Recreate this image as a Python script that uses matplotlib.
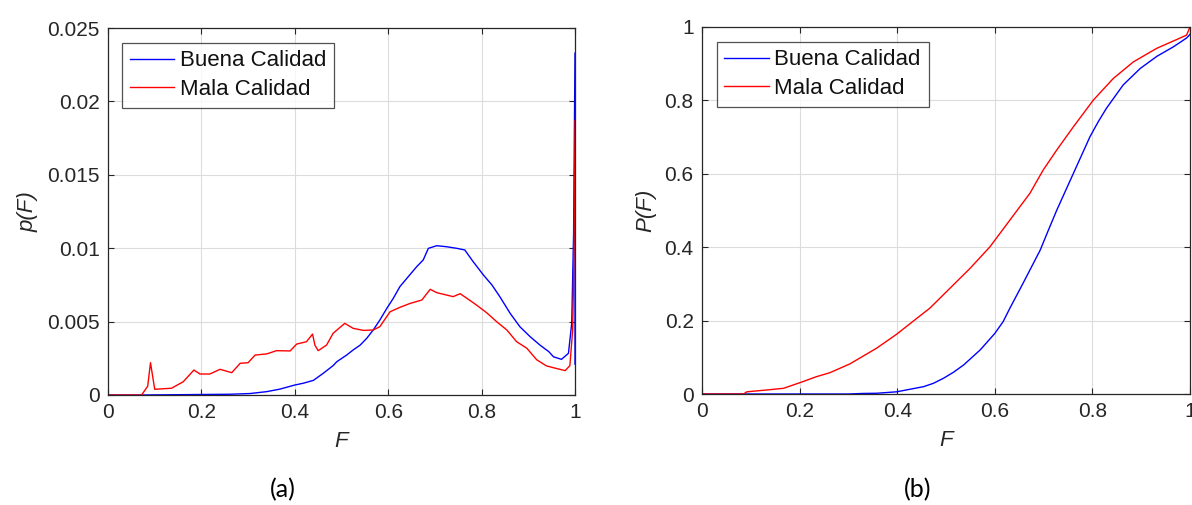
import matplotlib
matplotlib.use("Agg")
import matplotlib.pyplot as plt

plt.rcParams['font.family'] = ['Liberation Sans', 'DejaVu Sans']

# (a) probability density p(F)
f_good_pdf = [0.0, 0.07, 0.26, 0.304, 0.34, 0.368, 0.40, 0.418, 0.44, 0.461, 0.482, 0.49,
              0.511, 0.525, 0.54, 0.554, 0.568, 0.582, 0.597, 0.611, 0.625, 0.640, 0.661,
              0.675, 0.686, 0.704, 0.725, 0.747, 0.764, 0.782, 0.804, 0.822, 0.839, 0.861,
              0.882, 0.904, 0.925, 0.944, 0.954, 0.971, 0.986, 0.993, 0.997, 1.0, 1.0]
p_good = [0.0, 0.0, 0.00005, 0.0001, 0.00023, 0.0004, 0.00068, 0.0008, 0.001, 0.00148,
          0.0020, 0.00227, 0.00272, 0.00307, 0.0034, 0.00386, 0.00443, 0.0051, 0.0059,
          0.00659, 0.00738, 0.00795, 0.00874, 0.0092, 0.00999, 0.01017, 0.0101, 0.00999,
          0.00988, 0.00908, 0.00817, 0.0075, 0.0067, 0.00557, 0.00465, 0.00397, 0.0034,
          0.00295, 0.0026, 0.00243, 0.00284, 0.0049, 0.011, 0.0233, 0.0021]

f_bad_pdf = [0.0, 0.072, 0.085, 0.091, 0.10, 0.136, 0.161, 0.184, 0.197, 0.218, 0.240, 0.265,
             0.283, 0.300, 0.315, 0.340, 0.361, 0.390, 0.404, 0.425, 0.438, 0.443, 0.450,
             0.468, 0.482, 0.507, 0.525, 0.547, 0.568, 0.582, 0.604, 0.625, 0.647, 0.672,
             0.690, 0.704, 0.725, 0.739, 0.754, 0.768, 0.789, 0.811, 0.832, 0.854, 0.875,
             0.897, 0.918, 0.939, 0.961, 0.979, 0.989, 0.995, 0.998, 1.0]
p_bad = [0.0, 0.0, 0.0006, 0.0022, 0.00039, 0.00046, 0.0009, 0.0017, 0.00143, 0.00143,
         0.00175, 0.00152, 0.00216, 0.0022, 0.00272, 0.0028, 0.00302, 0.0030, 0.00347,
         0.00363, 0.00415, 0.0034, 0.00302, 0.0034, 0.0042, 0.00488, 0.00454, 0.0044,
         0.00443, 0.00465, 0.00567, 0.00597, 0.00624, 0.00647, 0.0072, 0.00697, 0.00681,
         0.0067, 0.0069, 0.0066, 0.00613, 0.0056, 0.0050, 0.00443, 0.00363, 0.00318,
         0.0024, 0.00198, 0.0018, 0.00166, 0.0020, 0.0044, 0.010, 0.0187]

# (b) cumulative distribution P(F)
f_good_cdf = [0.0, 0.30, 0.330, 0.358, 0.399, 0.454, 0.474, 0.495, 0.515, 0.536, 0.570,
              0.600, 0.617, 0.631, 0.658, 0.693, 0.710, 0.727, 0.761, 0.778, 0.795, 0.812,
              0.829, 0.863, 0.898, 0.932, 0.966, 0.993, 1.0]
P_good = [0.0, 0.0, 0.0015, 0.002, 0.006, 0.020, 0.029, 0.043, 0.059, 0.079, 0.120,
          0.165, 0.197, 0.234, 0.302, 0.392, 0.447, 0.501, 0.601, 0.651, 0.701, 0.742,
          0.779, 0.842, 0.887, 0.920, 0.946, 0.970, 0.98]

f_bad_cdf = [0.0, 0.085, 0.092, 0.133, 0.167, 0.201, 0.234, 0.262, 0.303, 0.358, 0.399,
             0.440, 0.467, 0.508, 0.549, 0.590, 0.631, 0.672, 0.699, 0.727, 0.761, 0.802,
             0.843, 0.884, 0.932, 0.973, 0.993, 1.0]
P_bad = [0.0, 0.0, 0.006, 0.011, 0.0155, 0.031, 0.047, 0.058, 0.082, 0.125, 0.163,
         0.206, 0.234, 0.288, 0.342, 0.401, 0.474, 0.547, 0.610, 0.665, 0.728, 0.801,
         0.860, 0.905, 0.942, 0.966, 0.978, 1.0]

series_labels = ["Buena Calidad", "Mala Calidad"]
x_ticks = [0, 0.2, 0.4, 0.6, 0.8, 1]
x_tick_labels = ["0", "0.2", "0.4", "0.6", "0.8", "1"]
pdf_ticks = [0, 0.005, 0.01, 0.015, 0.02, 0.025]
pdf_tick_labels = ["0", "0.005", "0.01", "0.015", "0.02", "0.025"]
cdf_ticks = [0, 0.2, 0.4, 0.6, 0.8, 1]
cdf_tick_labels = ["0", "0.2", "0.4", "0.6", "0.8", "1"]

W, H = 1192, 505
fig = plt.figure(figsize=(W / 100, H / 100), dpi=100)
fig.patch.set_facecolor("white")

ax_a = fig.add_axes([108 / W, 1 - 395 / H, 467 / W, 367 / H])
ax_b = fig.add_axes([702 / W, 1 - 394 / H, 488 / W, 367 / H])

dark = "#262626"


def style(ax, yticks, ylabels, ymax):
    ax.set_xlim(0, 1)
    ax.set_ylim(0, ymax)
    ax.set_xticks(x_ticks)
    ax.set_xticklabels(x_tick_labels)
    ax.set_yticks(yticks)
    ax.set_yticklabels(ylabels)
    ax.grid(True, color="#dcdcdc", linewidth=0.8)
    ax.set_axisbelow(True)
    ax.tick_params(direction="in", length=4, width=0.8, colors=dark, labelsize=15,
                   top=True, right=True, pad=6)
    for s in ax.spines.values():
        s.set_color(dark)
        s.set_linewidth(0.9)


ax_a.plot(f_good_pdf, p_good, color="#0000ff", lw=1.0, label=series_labels[0])
ax_a.plot(f_bad_pdf, p_bad, color="#ff0000", lw=1.0, label=series_labels[1])
style(ax_a, pdf_ticks, pdf_tick_labels, 0.025)
ax_a.set_xlabel("F", fontsize=16, fontstyle="italic", color=dark, labelpad=6)
ax_a.set_ylabel("p(F)", fontsize=16, fontstyle="italic", color=dark, labelpad=6)

ax_b.plot(f_good_cdf, P_good, color="#0000ff", lw=1.0, label=series_labels[0])
ax_b.plot(f_bad_cdf, P_bad, color="#ff0000", lw=1.0, label=series_labels[1])
style(ax_b, cdf_ticks, cdf_tick_labels, 1)
ax_b.set_xlabel("F", fontsize=16, fontstyle="italic", color=dark, labelpad=6)
ax_b.set_ylabel("P(F)", fontsize=16, fontstyle="italic", color=dark, labelpad=6)

for ax in (ax_a, ax_b):
    leg = ax.legend(loc="upper left", bbox_to_anchor=(0.03, 0.96), fontsize=16,
                    frameon=True, fancybox=False, edgecolor=dark, handlelength=2.0,
                    handletextpad=0.25, borderpad=0.35, labelspacing=0.35,
                    borderaxespad=0.0)
    leg.get_frame().set_linewidth(0.9)
    for t in leg.get_texts():
        t.set_color("#111111")

fig.text(283 / W, 1 - 490 / H, "(a)", ha="center", va="center", fontsize=18,
         family=["Lato", "DejaVu Sans"])
fig.text(918 / W, 1 - 490 / H, "(b)", ha="center", va="center", fontsize=18,
         family=["Lato", "DejaVu Sans"])

fig.savefig("out.png", dpi=100, facecolor="white")
